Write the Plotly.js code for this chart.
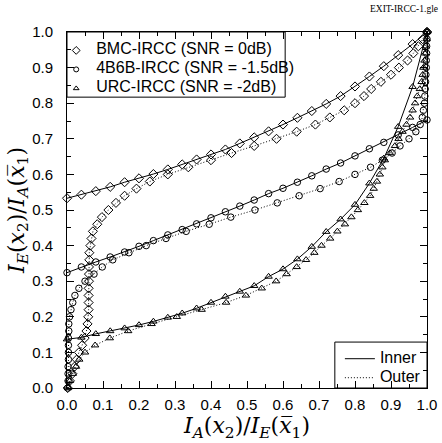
<!DOCTYPE html>
<html>
<head>
<meta charset="utf-8">
<script src="https://cdn.plot.ly/plotly-3.0.1.min.js"></script>
<style>html,body{margin:0;padding:0;background:#fff;}#chart{width:442px;height:443px;}</style>
</head>
<body>
<div id="chart"></div>
<script>
// Inner curves: sampled at I_A(x2)/I_E(x1) steps of 0.04
var innerX = [0,0.04,0.08,0.12,0.16,0.20,0.24,0.28,0.32,0.36,0.40,0.44,0.48,0.52,0.56,0.60,0.64,0.68,0.72,0.76,0.80,0.84,0.88,0.92,0.96,1.00];
var bmcInnerY  = [0.533,0.543,0.553,0.565,0.578,0.589,0.601,0.614,0.628,0.642,0.656,0.670,0.687,0.704,0.721,0.740,0.759,0.778,0.798,0.820,0.847,0.875,0.904,0.935,0.966,1.000];
var b46InnerY  = [0.324,0.340,0.354,0.368,0.382,0.398,0.414,0.430,0.445,0.461,0.478,0.495,0.511,0.528,0.546,0.561,0.578,0.596,0.615,0.632,0.652,0.672,0.690,0.711,0.732,0.753];
var urcInnerY  = [0.137,0.142,0.152,0.160,0.168,0.177,0.187,0.198,0.210,0.224,0.240,0.257,0.271,0.287,0.313,0.334,0.362,0.397,0.439,0.474,0.515,0.575,0.645,0.734,0.846,1.000];

// Outer curves: sampled at I_E(x2)/I_A(x1) steps of 0.02
var outerY = [0,0.02,0.04,0.06,0.08,0.10,0.12,0.14,0.16,0.18,0.20,0.22,0.24,0.26,0.28,0.30,0.32,0.34,0.36,0.38,0.40,0.42,0.44,0.46,0.48,0.50,0.52,0.54,0.56,0.58,0.60,0.62,0.64,0.66,0.68,0.70,0.72,0.74,0.76,0.78,0.80,0.82,0.84,0.86,0.88,0.90,0.92,0.94,0.96,0.98,1.00];
var bmcOuterX = [0.002,0.008,0.015,0.021,0.027,0.033,0.042,0.049,0.054,0.057,0.059,0.060,0.060,0.060,0.060,0.061,0.061,0.061,0.062,0.062,0.065,0.068,0.072,0.084,0.097,0.115,0.136,0.160,0.193,0.230,0.280,0.337,0.400,0.457,0.520,0.582,0.638,0.690,0.730,0.770,0.800,0.825,0.845,0.872,0.900,0.922,0.946,0.962,0.976,0.988,1.000];
var b46OuterX = [0.002,0.003,0.003,0.003,0.004,0.004,0.004,0.004,0.005,0.005,0.007,0.011,0.016,0.022,0.033,0.050,0.075,0.098,0.127,0.172,0.220,0.275,0.331,0.395,0.455,0.522,0.584,0.645,0.703,0.756,0.800,0.843,0.876,0.903,0.925,0.950,0.969,0.981,0.987,0.990,0.993,0.994,0.995,0.996,0.997,0.998,0.998,0.999,0.999,1.000,1.000];
var urcOuterX = [0.003,0.008,0.016,0.025,0.034,0.050,0.078,0.119,0.170,0.235,0.305,0.374,0.442,0.497,0.541,0.581,0.610,0.638,0.664,0.687,0.707,0.731,0.751,0.772,0.790,0.808,0.826,0.842,0.852,0.861,0.869,0.876,0.883,0.897,0.911,0.921,0.932,0.943,0.953,0.960,0.967,0.973,0.980,0.985,0.988,0.990,0.993,0.995,0.997,0.999,1.000];

var legendNames = ['BMC-IRCC (SNR = 0dB)','4B6B-IRCC (SNR = -1.5dB)','URC-IRCC (SNR = -2dB)'];
var lineNames = ['Inner','Outer'];

var black = '#000';
var DOT = '1px,2px';
var big = function(s){ return '<span style="font-size:16px">' + s + '</span>'; };
var mk = function(sym, size){ return {symbol: sym, size: size, color: black, line:{color: black, width: 1}}; };
var symD = mk('diamond-open', 7), symC = mk('circle-open', 6.5), symT = mk('triangle-up-open', 6.5);

var traces = [
  {x: innerX, y: bmcInnerY, mode:'lines+markers', line:{color:black,width:1}, marker:symD, showlegend:false, cliponaxis:false},
  {x: bmcOuterX, y: outerY, mode:'lines+markers', line:{color:black,width:1,dash:DOT}, marker:symD, showlegend:false, cliponaxis:false},
  {x: innerX, y: b46InnerY, mode:'lines+markers', line:{color:black,width:1}, marker:symC, showlegend:false, cliponaxis:false},
  {x: b46OuterX, y: outerY, mode:'lines+markers', line:{color:black,width:1,dash:DOT}, marker:symC, showlegend:false, cliponaxis:false},
  {x: innerX, y: urcInnerY, mode:'lines+markers', line:{color:black,width:1}, marker:symT, showlegend:false, cliponaxis:false},
  {x: urcOuterX, y: outerY, mode:'lines+markers', line:{color:black,width:1,dash:DOT}, marker:symT, showlegend:false, cliponaxis:false},
  // legend entries
  {x:[null], y:[null], mode:'markers', marker:mk('diamond-open',6), name:big(legendNames[0]), legend:'legend'},
  {x:[null], y:[null], mode:'markers', marker:mk('circle-open',5), name:big(legendNames[1]), legend:'legend'},
  {x:[null], y:[null], mode:'markers', marker:mk('triangle-up-open',5), name:big(legendNames[2]), legend:'legend'},
  {x:[null], y:[null], mode:'lines', line:{color:black,width:1}, name:big(lineNames[0]), legend:'legend2'},
  {x:[null], y:[null], mode:'lines', line:{color:black,width:1,dash:DOT}, name:big(lineNames[1]), legend:'legend2'}
];

var axisCommon = {
  range:[0,1], dtick:0.1, tick0:0, tickformat:'.1f',
  ticks:'inside', ticklen:7, tickwidth:1, tickcolor:black,
  minor:{dtick:0.05, ticks:'inside', ticklen:4, tickcolor:black, tickwidth:1},
  showline:true, linecolor:black, linewidth:1, mirror:'ticks',
  showgrid:false, zeroline:false,
  tickfont:{family:'Liberation Sans, Arial, sans-serif', size:15, color:black}
};

var mathFont = {family:'DejaVu Serif, serif', size:22, color:black};

var layout = {
  width:442, height:443,
  margin:{l:67, r:15, t:32, b:55},
  paper_bgcolor:'#fff', plot_bgcolor:'#fff',
  font:{family:'Liberation Sans, Arial, sans-serif', color:black},
  xaxis: Object.assign({}, axisCommon, {
    ticklabelstandoff: 3,
    title:{text:'<i>I</i><sub><i>A</i></sub>(<i>x</i><sub>2</sub>)/<i>I</i><sub><i>E</i></sub>(<i>x&#773;</i><sub>1</sub>)', font:mathFont, standoff:1}
  }),
  yaxis: Object.assign({}, axisCommon, {
    ticklabelstandoff: 10,
    title:{text:'<i>I</i><sub><i>E</i></sub>(<i>x</i><sub>2</sub>)/<i>I</i><sub><i>A</i></sub>(<i>x&#773;</i><sub>1</sub>)', font:mathFont, standoff:1}
  }),
  shapes:[
    {type:'rect', xref:'paper', yref:'paper', x0:0, x1:0.606, y0:0.817, y1:1, line:{color:black,width:1}, fillcolor:'#fff', layer:'below'},
    {type:'rect', xref:'paper', yref:'paper', x0:0.744, x1:1, y0:0, y1:0.129, line:{color:black,width:1}, fillcolor:'#fff', layer:'below'}
  ],
  legend:{x:-0.030, y:0.989, xanchor:'left', yanchor:'top', bgcolor:'rgba(0,0,0,0)', borderwidth:0,
    font:{family:'Liberation Sans, Arial, sans-serif', size:10, color:black}, itemwidth:30, tracegroupgap:0},
  legend2:{x:0.758, y:0.123, xanchor:'left', yanchor:'top', bgcolor:'rgba(0,0,0,0)', borderwidth:0,
    font:{family:'Liberation Sans, Arial, sans-serif', size:10, color:black}, itemwidth:30, tracegroupgap:0},
  annotations:[{text:'EXIT-IRCC-1.gle', xref:'paper', yref:'paper', x:1.036, y:1.084, xanchor:'right', yanchor:'top', showarrow:false,
    font:{family:'Liberation Serif, serif', size:9.5, color:black}}]
};

Plotly.newPlot('chart', traces, layout, {staticPlot:true, displayModeBar:false});
</script>
</body>
</html>
